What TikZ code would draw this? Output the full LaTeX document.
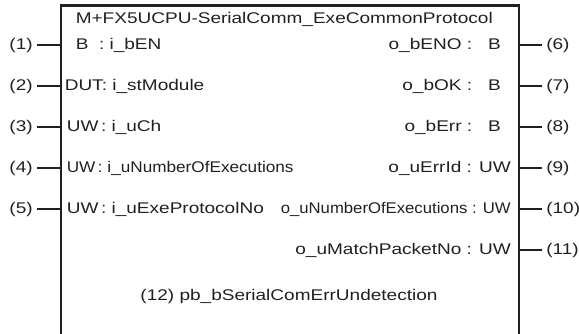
\documentclass[tikz,border=0pt]{standalone}
\usepackage{fontspec}
\usepackage{tikz}
\usetikzlibrary{positioning}
\newfontfamily\fbfont{Liberation Sans}[FakeStretch=1.23]
\newfontfamily\fbleftlong{Liberation Sans}[FakeStretch=1.11]
\newfontfamily\fbrightlong{Liberation Sans}[FakeStretch=1.08]
\definecolor{FBInk}{HTML}{231F20}

\begin{document}
\begin{tikzpicture}[
  x=0.75pt,y=-0.75pt,
  fbtext/.style={
    inner sep=0pt,
    text=FBInk,
    text height=0.72em,
    text depth=0pt,
    font=\fbfont\fontsize{11.6pt}{14pt}\selectfont
  },
  inname/.style={fbtext,anchor=west},
  outname/.style={fbtext,anchor=east},
  leftlong/.style={inname,font=\fbleftlong\fontsize{11.6pt}{14pt}\selectfont},
  rightlong/.style={outname,font=\fbrightlong\fontsize{11.6pt}{14pt}\selectfont},
  pinno/.style={fbtext,inner xsep=3pt},
  fbbox/.style={draw=FBInk,line width=1.6pt},
  pin/.style={draw=FBInk,line width=1.4pt}
]
\useasboundingbox (0,0) rectangle (579,334);

% function block outline (open at the bottom)
\coordinate (boxbl) at (61,334);
\coordinate (boxtl) at (61,5.5);
\coordinate (boxtr) at (519,5.5);
\coordinate (boxbr) at (519,334);
\draw[fbbox] (boxbl) -- (boxtl) -- (boxtr) -- (boxbr);

\node[inname] (title) at (75.5,18.3) {M+FX5UCPU-SerialComm\_ExeCommonProtocol};

% inputs
\node[inname] (i1) at (75.5,45) {B\ \ : i\_bEN};
\node[inname] (i2) at (64.5,86) {DUT: i\_stModule};
\node[inname] (i3) at (66.5,127) {UW\,: i\_uCh};
\node[leftlong] (i4) at (66.5,168) {UW\,: i\_uNumberOfExecutions};
\node[inname] (i5) at (66.5,209) {UW\,: i\_uExeProtocolNo};

\node[pinno,anchor=east] (n1) at (37,45) {(1)};
\node[pinno,anchor=east] (n2) at (37,86) {(2)};
\node[pinno,anchor=east] (n3) at (37,127) {(3)};
\node[pinno,anchor=east] (n4) at (37,168) {(4)};
\node[pinno,anchor=east] (n5) at (37,209) {(5)};

\coordinate (in1) at (61,45);
\coordinate (in2) at (61,86);
\coordinate (in3) at (61,127);
\coordinate (in4) at (61,168);
\coordinate (in5) at (61,209);

\draw[pin] (n1) -- (in1);
\draw[pin] (n2) -- (in2);
\draw[pin] (n3) -- (in3);
\draw[pin] (n4) -- (in4);
\draw[pin] (n5) -- (in5);

% outputs
\node[outname] (o6) at (501,45) {o\_bENO :\ \ \ B};
\node[outname] (o7) at (501,86) {o\_bOK :\ \ \ B};
\node[outname] (o8) at (501,127) {o\_bErr :\ \ \ B};
\node[outname] (o9) at (511,168) {o\_uErrId : UW};
\node[rightlong] (o10) at (511,209) {o\_uNumberOfExecutions : UW};
\node[outname] (o11) at (511,250) {o\_uMatchPacketNo : UW};

\node[pinno,anchor=west] (n6) at (542,45) {(6)};
\node[pinno,anchor=west] (n7) at (542,86) {(7)};
\node[pinno,anchor=west] (n8) at (542,127) {(8)};
\node[pinno,anchor=west] (n9) at (542,168) {(9)};
\node[pinno,anchor=west] (n10) at (542,209) {(10)};
\node[pinno,anchor=west] (n11) at (542,250) {(11)};

\coordinate (out6) at (519,45);
\coordinate (out7) at (519,86);
\coordinate (out8) at (519,127);
\coordinate (out9) at (519,168);
\coordinate (out10) at (519,209);
\coordinate (out11) at (519,250);

\draw[pin] (out6) -- (n6);
\draw[pin] (out7) -- (n7);
\draw[pin] (out8) -- (n8);
\draw[pin] (out9) -- (n9);
\draw[pin] (out10) -- (n10);
\draw[pin] (out11) -- (n11);

% public variable
\node[fbtext] (pb12) at (289,296) {(12) pb\_bSerialComErrUndetection};
\end{tikzpicture}
\end{document}
